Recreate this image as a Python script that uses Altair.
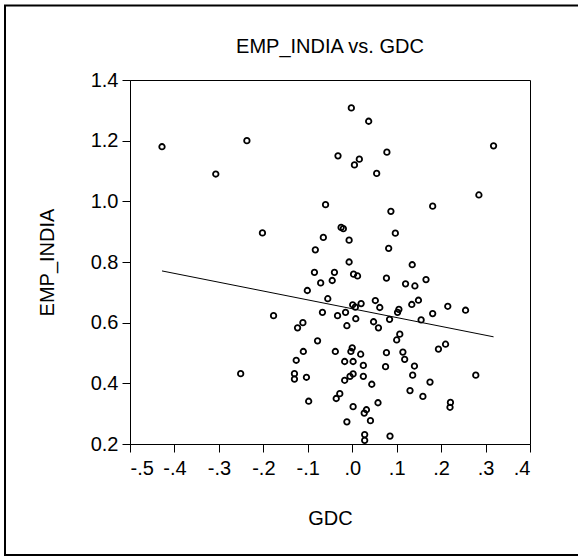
import altair as alt
import pandas as pd

gdc = [-0.428, -0.307, -0.237, -0.202, -0.251, -0.177, -0.002, 0.037, 0.318, -0.032,
       0.016, 0.005, 0.078, 0.055, 0.285, -0.060, 0.181, 0.087, -0.025, -0.020,
       -0.065, -0.007, 0.097, -0.083, 0.082, -0.007, 0.135, -0.085, -0.040, 0.003,
       0.012, 0.077, 0.166, -0.045, -0.071, 0.120, 0.141, -0.101, -0.055, 0.052,
       0.149, 0.001, 0.020, 0.007, 0.062, 0.134, 0.215, 0.255, 0.105, 0.102,
       -0.067, -0.015, -0.033, 0.181, 0.008, 0.084, 0.155, 0.048, -0.111, -0.012,
       -0.123, 0.059, 0.107, 0.100, -0.078, 0.210, 0.194, 0.000, -0.003, -0.038,
       -0.110, 0.114, 0.077, 0.019, 0.118, -0.126, -0.017, 0.002, 0.025, 0.140,
       0.075, 0.002, -0.005, -0.130, -0.130, -0.103, 0.025, -0.017, 0.136, 0.278,
       0.175, 0.044, 0.130, -0.028, -0.036, 0.159, -0.098, 0.058, 0.221, 0.220,
       0.002, 0.032, 0.027, 0.041, -0.012, 0.028, 0.028, 0.085]
emp_india = [1.180, 1.090, 1.200, 0.896, 0.432, 0.623, 1.308, 1.264, 1.183, 1.150,
             1.139, 1.120, 1.162, 1.092, 1.021, 0.989, 0.984, 0.967, 0.914, 0.910,
             0.881, 0.872, 0.895, 0.840, 0.845, 0.800, 0.791, 0.766, 0.766, 0.760,
             0.754, 0.747, 0.742, 0.739, 0.731, 0.728, 0.721, 0.706, 0.679, 0.673,
             0.674, 0.659, 0.663, 0.651, 0.650, 0.660, 0.654, 0.641, 0.644, 0.634,
             0.634, 0.634, 0.623, 0.630, 0.613, 0.611, 0.609, 0.603, 0.600, 0.590,
             0.583, 0.583, 0.562, 0.543, 0.540, 0.529, 0.513, 0.517, 0.505, 0.505,
             0.505, 0.503, 0.501, 0.496, 0.479, 0.476, 0.472, 0.472, 0.459, 0.457,
             0.455, 0.431, 0.423, 0.432, 0.414, 0.420, 0.423, 0.410, 0.427, 0.427,
             0.404, 0.397, 0.376, 0.366, 0.350, 0.357, 0.341, 0.336, 0.337, 0.321,
             0.323, 0.313, 0.302, 0.277, 0.273, 0.231, 0.212, 0.226]

x_ticks = [-0.5, -0.4, -0.3, -0.2, -0.1, 0.0, 0.1, 0.2, 0.3, 0.4]
y_ticks = [0.2, 0.4, 0.6, 0.8, 1.0, 1.2, 1.4]

df = pd.DataFrame({"GDC": gdc, "EMP_INDIA": emp_india})

FONT = "Liberation Sans"

x_enc = alt.X(
    "GDC:Q",
    scale=alt.Scale(domain=[-0.5, 0.4], nice=False, zero=False),
    axis=alt.Axis(
        values=x_ticks,
        labelExpr="replace(replace(format(datum.value, '.1f'), '\u2212', '-'), '0.', '.')",
        title="GDC",
        titleX=200, titleY=80, titleBaseline="alphabetic", titleAlign="center",
        labelBaseline="alphabetic", labelPadding=22,
    ),
)
y_enc = alt.Y(
    "EMP_INDIA:Q",
    scale=alt.Scale(domain=[0.2, 1.4], nice=False, zero=False),
    axis=alt.Axis(
        values=y_ticks,
        format=".1f",
        title="EMP_INDIA",
        titleX=-77, titleY=182, titleBaseline="alphabetic", titleAlign="center",
        titleAngle=270,
        labelPadding=4,
    ),
)

points = alt.Chart(df).mark_point(
    shape="circle", filled=False, color="black", size=30, strokeWidth=1.8, opacity=1
).encode(x=x_enc, y=y_enc)

line = alt.Chart(df).transform_regression(
    "GDC", "EMP_INDIA", method="linear"
).mark_line(color="black", strokeWidth=1).encode(x=x_enc, y=y_enc)

border = alt.Chart(alt.Data(values=[{}])).mark_rect(
    filled=False, stroke="black", strokeWidth=2
).encode(
    x=alt.value(-125), x2=alt.value(460), y=alt.value(-74.5), y2=alt.value(475)
)

chart = alt.layer(border, line, points).properties(
    width=400,
    height=364,
    autosize="none",
    background="white",
    padding={"left": 130, "top": 80, "right": 48, "bottom": 112},
    title=alt.TitleParams(
        "EMP_INDIA vs. GDC", fontSize=20, font=FONT, fontWeight="normal",
        anchor="middle", baseline="alphabetic", offset=0, dy=68, color="black",
    ),
).configure_view(
    stroke="black", strokeWidth=1
).configure_axis(
    labelFont=FONT, titleFont=FONT, labelFontSize=20, titleFontSize=20,
    labelColor="black", titleColor="black", titleFontWeight="normal",
    domainColor="black", tickColor="black", tickSize=8, tickWidth=1,
    domainWidth=1, grid=False,
)

chart.save("out.html", embed_options={"renderer": "svg", "actions": False})
